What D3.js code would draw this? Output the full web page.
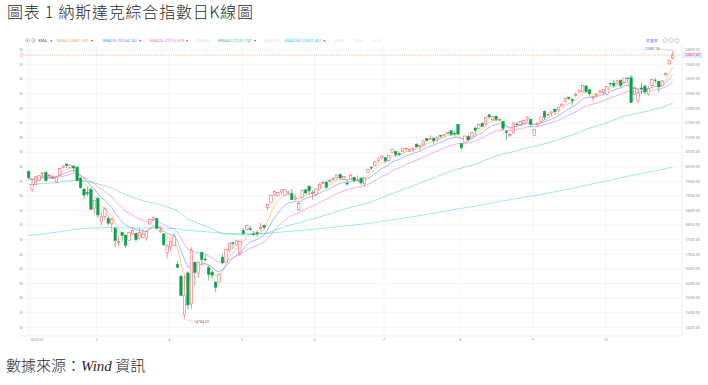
<!DOCTYPE html>
<html><head><meta charset="utf-8">
<script src="https://cdn.jsdelivr.net/npm/d3@7"></script>
<style>body{margin:0;background:#fff}svg{display:block}</style>
</head><body><svg id="c" width="708" height="385"></svg>
<script>
const dates = ["01-31",
"02-03","02-04","02-05","02-06","02-07","02-10","02-11","02-12","02-13","02-14","02-18","02-19","02-20","02-21","02-24","02-25","02-26","02-27","02-28",
"03-03","03-04","03-05","03-06","03-07","03-10","03-11","03-12","03-13","03-14","03-17","03-18","03-19","03-20","03-21","03-24","03-25","03-26","03-27","03-28","03-31",
"04-01","04-02","04-03","04-04","04-07","04-08","04-09","04-10","04-11","04-14","04-15","04-16","04-17","04-21","04-22","04-23","04-24","04-25","04-28","04-29","04-30",
"05-01","05-02","05-05","05-06","05-07","05-08","05-09","05-12","05-13","05-14","05-15","05-16","05-19","05-20","05-21","05-22","05-23","05-27","05-28","05-29","05-30",
"06-02","06-03","06-04","06-05","06-06","06-09","06-10","06-11","06-12","06-13","06-16","06-17","06-18","06-20","06-23","06-24","06-25","06-26","06-27","06-30",
"07-01","07-02","07-03","07-07","07-08","07-09","07-10","07-11","07-14","07-15","07-16","07-17","07-18","07-21","07-22","07-23","07-24","07-25","07-28","07-29","07-30","07-31",
"08-01","08-04","08-05","08-06","08-07","08-08","08-11","08-12","08-13","08-14","08-15","08-18","08-19","08-20","08-21","08-22","08-25","08-26","08-27","08-28","08-29",
"09-02","09-03","09-04","09-05","09-08","09-09","09-10","09-11","09-12","09-15","09-16","09-17","09-18","09-19","09-22","09-23","09-24","09-25","09-26","09-29","09-30",
"10-01","10-02","10-03","10-06","10-07","10-08","10-09","10-10","10-13","10-14","10-15","10-16","10-17","10-20","10-21","10-22","10-23","10-24","10-27","10-28"];

const openV = [19832,
19215,19393,19539,19759,19801,19689,19617,19474,19709,19978,20093,19982,20025,19990,19611,19236,19110,19215,18564,
18913,18135,18306,18232,18044,17886,17436,17741,17644,17469,17711,17720,17538,17584,17552,18040,18202,18221,17794,17699,17053,
17250,17292,16652,16258,14930,16362,15299,16729,16356,17066,16833,16538,16388,16052,16051,16905,16709,17146,17395,17317,17053,
17811,17859,17883,17697,17740,17872,17990,18599,18783,19034,19016,19136,19011,19138,19077,18880,18521,18952,19207,19332,19094,
19049,19222,19430,19471,19513,19568,19625,19730,19555,19431,19563,19640,19528,19613,19415,19808,19976,20032,20219,20320,
20314,20202,20480,20516,20448,20520,20620,20534,20583,20775,20700,20746,20960,20930,20980,20954,21070,21067,21138,21231,21145,21457,
20789,20838,21041,20962,21328,21314,21477,21463,21775,21609,21733,21596,21562,21225,21080,21154,21465,21436,21497,21637,21631,
21073,21433,21542,21891,21773,21837,21971,21946,22079,22242,22384,22296,22464,22564,22588,22770,22636,22357,22454,22574,22532,
22484,22858,22863,22857,22948,22888,23038,23050,22481,22269,22699,22762,22489,22791,22968,22928,22776,23148,23523,23730];

const highV = [19862,
19530,19676,19701,19792,19863,19740,19722,19691,19953,20045,20110,20070,20036,20001,19645,19251,19306,19282,18849,
18998,18469,18608,18347,18261,17942,17658,17762,17687,17761,17906,17721,17915,17869,17801,18205,18280,18249,17975,17718,17344,
17473,17711,16771,16264,16292,16407,17246,16761,16768,17079,16993,16622,16442,16053,16370,17010,17193,17391,17425,17493,17476,
17902,18010,17980,17796,17822,18098,18018,18718,19047,19191,19132,19212,19238,19171,19244,19067,18800,19208,19250,19375,19188,
19250,19449,19500,19542,19574,19645,19736,19792,19694,19577,19775,19660,19703,19632,19637,19933,20008,20187,20311,20384,
20336,20394,20624,20552,20508,20655,20664,20628,20659,20809,20747,20907,20974,21080,20984,21028,21092,21110,21190,21246,21219,21457,
20810,21060,21098,21183,21359,21469,21541,21686,21803,21741,21736,21669,21563,21225,21172,21536,21535,21560,21618,21732,21631,
21300,21520,21709,21929,21858,21890,21997,22043,22183,22355,22389,22355,22538,22641,22798,22774,22650,22437,22512,22650,22663,
22773,22893,22978,22981,22995,23060,23059,23150,22747,22662,22894,22820,22770,23011,23028,22940,22970,23235,23648,23981.36];

const lowV = [19581,
19141,19386,19501,19656,19490,19636,19579,19440,19687,19942,19941,19934,19797,19500,19250,18883,18994,18535,18372,
18248,17996,18181,17991,17768,17239,17275,17442,17225,17469,17649,17427,17527,17554,17470,18014,18157,17834,17720,17305,16854,
17127,17267,16541,15575,14784.03,15107,15113,15938,16188,16632,16749,16107,16171,15698,16030,16657,16705,17093,17175,17300,16956,
17669,17817,17807,17623,17594,17815,17861,18511,18741,19003,18976,19052,19000,19020,18854,18833,18500,18903,19063,19019,18875,
18974,19195,19393,19233,19432,19523,19556,19556,19538,19357,19563,19484,19509,19384,19330,19786,19894,20010,20128,20234,
20124,20178,20459,20323,20364,20495,20537,20505,20494,20667,20559,20725,20862,20927,20784,20853,20991,21040,21119,21076,21023,21102,
20568,20838,20864,20938,21094,21294,21365,21420,21620,21575,21560,21566,21238,20906,21019,21150,21438,21396,21470,21547,21368,
21073,21383,21518,21596,21745,21739,21815,21888,22062,22222,22296,22102,22379,22504,22584,22541,22432,22242,22368,22506,22466,
22468,22739,22721,22815,22714,22849,22917,22200,22446,22178,22478,22452,22441,22763,22863,22553,22751,23088,23504,23673];

const closeV = [19627,
19392,19654,19692,19792,19523,19714,19644,19650,19946,20027,20041,20056,19962,19524,19287,19026,19075,18544,18847,
18350,18285,18553,18069,18196,17468,17436,17648,17303,17754,17809,17504,17751,17692,17784,18189,18272,17899,17804,17323,17299,
17450,17601,16551,15588,15603,15268,17125,16387,16724,16831,16823,16307,16286,15871,16300,16708,17166,17383,17366,17461,17446,
17711,17978,17844,17690,17738,17928,17929,18708,19010,19147,19112,19211,19215,19143,18873,18926,18737,19199,19101,19176,19114,
19243,19399,19460,19298,19530,19591,19715,19616,19662,19407,19701,19521,19546,19447,19631,19913,19974,20168,20273,20370,
20203,20393,20601,20413,20418,20611,20631,20586,20640,20678,20730,20886,20896,20974,20893,21020,21058,21108,21179,21098,21130,21122,
20650,21054,20917,21169,21243,21450,21385,21682,21713,21711,21623,21630,21315,21173,21100,21497,21449,21544,21590,21705,21456,
21280,21498,21708,21700,21799,21879,21886,22043,22141,22349,22334,22261,22471,22631,22789,22573,22498,22385,22484,22591,22660,
22755,22844,22781,22942,22788,23043,23025,22204,22695,22522,22670,22563,22680,22991,22954,22740,22942,23205,23637,23827.49];

const yTicks = [14500,15000,15500,16000,16500,17000,17500,18000,18500,19000,19500,20000,20500,21000,21500,22000,22500,23000,23500,24000];
const monthTickDates = ["02-03","03-03","04-01","05-01","06-02","07-01","08-01","09-02","10-01"];
const monthLabels = ["2025/02","3","4","5","6","7","8","9","10"];

const emaNames = ["EMA5","EMA10","EMA20","EMA30","EMA60","EMA120","EMA250","EMA","EMA","EMA"];
const emaLegendValues = ["23401.531","23154.742","22916.529","","22101.741","","20001.457","","",""];
const emaColors = ["#f7a540","#5b86f0","#e56be0","#cbb8f2","#2cc68c","#f6a3b3","#20cfe4","#c9c9c9","#d7c6f4","#f3dcaa"];
const emaPeriods = [5,10,20,0,60,0,250,0,0,0];
// EMA levels at the left edge of the chart
const emaStart = [19640,19620,19560,0,19390,0,17620,0,0,0];
const lastPrice = 23827.49, maxHigh = 23981.36, minLow = 14784.03;

const svg = d3.select("#c");
const UP = "#f0505a", DOWN = "#0ca04c";
const plotL = 19.5, plotR = 682, plotT = 45, plotB = 336;

const x = d3.scaleBand().domain(dates).range([26.9, 674.4]).paddingInner(0.3).paddingOuter(0.15);
const y = d3.scaleLinear().domain([14500, 24000]).range([327.3, 50]);
const cx = d => x(d) + x.bandwidth() / 2;

const defs = svg.append("defs");
defs.append("clipPath").attr("id", "leftclip").append("rect").attr("x", 19.5).attr("y", 0).attr("width", 700).attr("height", 385);

// title & source
svg.append("text").attr("x", 7).attr("y", 18).attr("font-family", "'Noto Sans CJK TC','Noto Sans CJK SC',sans-serif")
  .attr("font-size", 16).attr("font-weight", 300).attr("fill", "#2a2a2a").attr("textLength", 246).attr("lengthAdjust", "spacing")
  .text("圖表 1 納斯達克綜合指數日K線圖");
const src = svg.append("text").attr("x", 6).attr("y", 371).attr("font-family", "'Noto Sans CJK TC','Noto Sans CJK SC',sans-serif")
  .attr("font-size", 15).attr("font-weight", 300).attr("fill", "#2a2a2a");
src.append("tspan").text("數據來源：");
src.append("tspan").attr("font-style", "italic").attr("font-family", "'Liberation Serif',serif").text("Wind");
src.append("tspan").text(" 資訊");

const g = svg.append("g").attr("clip-path", "url(#leftclip)");
// horizontal grid
g.selectAll("line.hg").data(yTicks).join("line").attr("class", "hg")
  .attr("x1", plotL).attr("x2", plotR).attr("y1", d => y(d)).attr("y2", d => y(d))
  .attr("stroke", "#f2f2f2").attr("stroke-width", 0.8);
// vertical grid
g.selectAll("line.vg").data(monthTickDates).join("line").attr("class", "vg")
  .attr("x1", d => x(d)).attr("x2", d => x(d)).attr("y1", plotT).attr("y2", plotB)
  .attr("stroke", "#f2f2f2").attr("stroke-width", 0.8);
// frame lines
g.append("line").attr("x1", plotL).attr("x2", plotR).attr("y1", plotB).attr("y2", plotB).attr("stroke", "#ececec").attr("stroke-width", 0.8);
g.append("line").attr("x1", plotR).attr("x2", plotR).attr("y1", plotT).attr("y2", plotB).attr("stroke", "#ececec").attr("stroke-width", 0.8);
g.append("line").attr("x1", 28).attr("x2", 28).attr("y1", plotT).attr("y2", plotB).attr("stroke", "#f2f2f2").attr("stroke-width", 0.8);

// axis labels (right)
const axFont = "Roboto, 'DejaVu Sans', sans-serif";
g.selectAll("text.ry").data(yTicks).join("text").attr("class", "ry")
  .attr("x", 685).attr("y", d => y(d) + 1.3).attr("font-size", 3.6).attr("font-family", axFont).attr("fill", "#9a9a9a")
  .text(d => d3.format(".2f")(d));
// left labels (cut by the picture edge)
g.selectAll("text.ly").data(yTicks).join("text").attr("class", "ly")
  .attr("x", 22.5).attr("y", d => y(d) + 1.3).attr("text-anchor", "end").attr("font-size", 3.6).attr("font-family", axFont).attr("fill", "#9a9a9a")
  .text(d => d3.format(".2f")(d));
// x labels
g.selectAll("text.xl").data(monthTickDates).join("text").attr("class", "xl")
  .attr("x", (d, i) => i === 0 ? x(d) - 1 : x(d)).attr("y", 341).attr("text-anchor", (d, i) => i === 0 ? "start" : "middle")
  .attr("font-size", 3.6).attr("font-family", axFont).attr("fill", "#9a9a9a")
  .text((d, i) => monthLabels[i]);

// EMA lines
function ema(vals, n, start) {
  const a = 2 / (n + 1); let e = start; const out = [];
  for (const v of vals) { e = a * v + (1 - a) * e; out.push(e); }
  return out;
}
const lineGen = d3.line().x((d, i) => cx(dates[i])).y(d => y(d));
emaPeriods.forEach((p, k) => {
  if (!p) return;
  const vals = ema(closeV, p, emaStart[k]);
  g.append("path").attr("d", lineGen(vals)).attr("fill", "none").attr("stroke", emaColors[k])
    .attr("stroke-width", 0.8).attr("opacity", k >= 4 ? 0.55 : 0.7);
});

// price line
g.append("line").attr("x1", plotL + 4).attr("x2", plotR).attr("y1", y(lastPrice)).attr("y2", y(lastPrice))
  .attr("stroke", "#f6a16a").attr("stroke-width", 0.8).attr("stroke-dasharray", "1,1.2");

// candles
const idx = d3.range(dates.length);
const cg = g.append("g");
cg.selectAll("line.w").data(idx).join("line").attr("class", "w")
  .attr("x1", i => cx(dates[i])).attr("x2", i => cx(dates[i]))
  .attr("y1", i => y(highV[i])).attr("y2", i => y(lowV[i]))
  .attr("stroke", i => closeV[i] >= openV[i] ? UP : DOWN).attr("stroke-width", 0.6);
cg.selectAll("rect.b").data(idx).join("rect").attr("class", "b")
  .attr("x", i => x(dates[i])).attr("width", x.bandwidth())
  .attr("y", i => y(Math.max(openV[i], closeV[i])))
  .attr("height", i => Math.max(0.6, Math.abs(y(openV[i]) - y(closeV[i]))))
  .attr("fill", i => closeV[i] >= openV[i] ? "#fff" : DOWN)
  .attr("stroke", i => closeV[i] >= openV[i] ? UP : DOWN).attr("stroke-width", 0.5);

// max/min markers
const iMax = highV.indexOf(maxHigh), iMin = lowV.indexOf(minLow);
g.append("line").attr("x1", cx(dates[iMax]) - 1).attr("y1", y(maxHigh)).attr("x2", 661).attr("y2", y(maxHigh) - 1.5)
  .attr("stroke", "#bdbdbd").attr("stroke-width", 0.5);
g.append("text").attr("x", 660).attr("y", y(maxHigh) - 0.3).attr("text-anchor", "end").attr("font-size", 3.6)
  .attr("font-family", axFont).attr("fill", "#777").text(d3.format(".2f")(maxHigh));
g.append("line").attr("x1", cx(dates[iMin])).attr("y1", y(minLow)).attr("x2", 193).attr("y2", y(minLow) + 3)
  .attr("stroke", "#bdbdbd").attr("stroke-width", 0.5);
g.append("text").attr("x", 194).attr("y", y(minLow) + 4.3).attr("font-size", 3.6)
  .attr("font-family", axFont).attr("fill", "#777").text(d3.format(".2f")(minLow));

// price tags on axes
g.append("rect").attr("x", 682.5).attr("y", y(lastPrice) - 2.8).attr("width", 20).attr("height", 5.6).attr("fill", "#dfe9fb");
g.append("text").attr("x", 685).attr("y", y(lastPrice) + 1.3).attr("font-size", 3.6).attr("font-family", axFont)
  .attr("fill", "#f0505a").text(d3.format(".2f")(lastPrice));
g.append("rect").attr("x", 19.5).attr("y", y(lastPrice) - 2.8).attr("width", 4).attr("height", 5.6).attr("fill", "#fbe3e5");

// legend
const lg = svg.append("g").attr("font-family", axFont).attr("font-size", 4);
[27.5, 33.5].forEach(px => {
  lg.append("circle").attr("cx", px).attr("cy", 40.5).attr("r", 2).attr("fill", "none").attr("stroke", "#aaa").attr("stroke-width", 0.6);
  lg.append("circle").attr("cx", px).attr("cy", 40.5).attr("r", 0.8).attr("fill", "#aaa");
});
lg.append("text").attr("x", 38.5).attr("y", 42).attr("fill", "#555").text("EMA");
lg.append("text").attr("x", 50).attr("y", 42).attr("fill", "#999").attr("font-size", 3.2).text("▼");
const legX = [57, 103, 150, 196, 218, 264, 285, 335, 354, 373];
emaNames.forEach((nm, k) => {
  const hasV = emaLegendValues[k] !== "";
  const t = lg.append("text").attr("x", legX[k]).attr("y", 42).attr("fill", emaColors[k])
    .attr("opacity", hasV ? 1 : 0.55).text(nm + ":" + (hasV ? " " + emaLegendValues[k] : ""));
  if (hasV) {
    const w = t.node().getComputedTextLength();
    lg.append("circle").attr("cx", legX[k] + w + 3.2).attr("cy", 40.6).attr("r", 0.9).attr("fill", "#f04848");
  }
});

// top-right tools
lg.append("text").attr("x", 658).attr("y", 42).attr("text-anchor", "end").attr("fill", "#3d7be0").text("前复权");
[665, 671, 677].forEach(px => {
  lg.append("circle").attr("cx", px).attr("cy", 40.5).attr("r", 2).attr("fill", "none").attr("stroke", "#aaa").attr("stroke-width", 0.6);
});
</script></body></html>
